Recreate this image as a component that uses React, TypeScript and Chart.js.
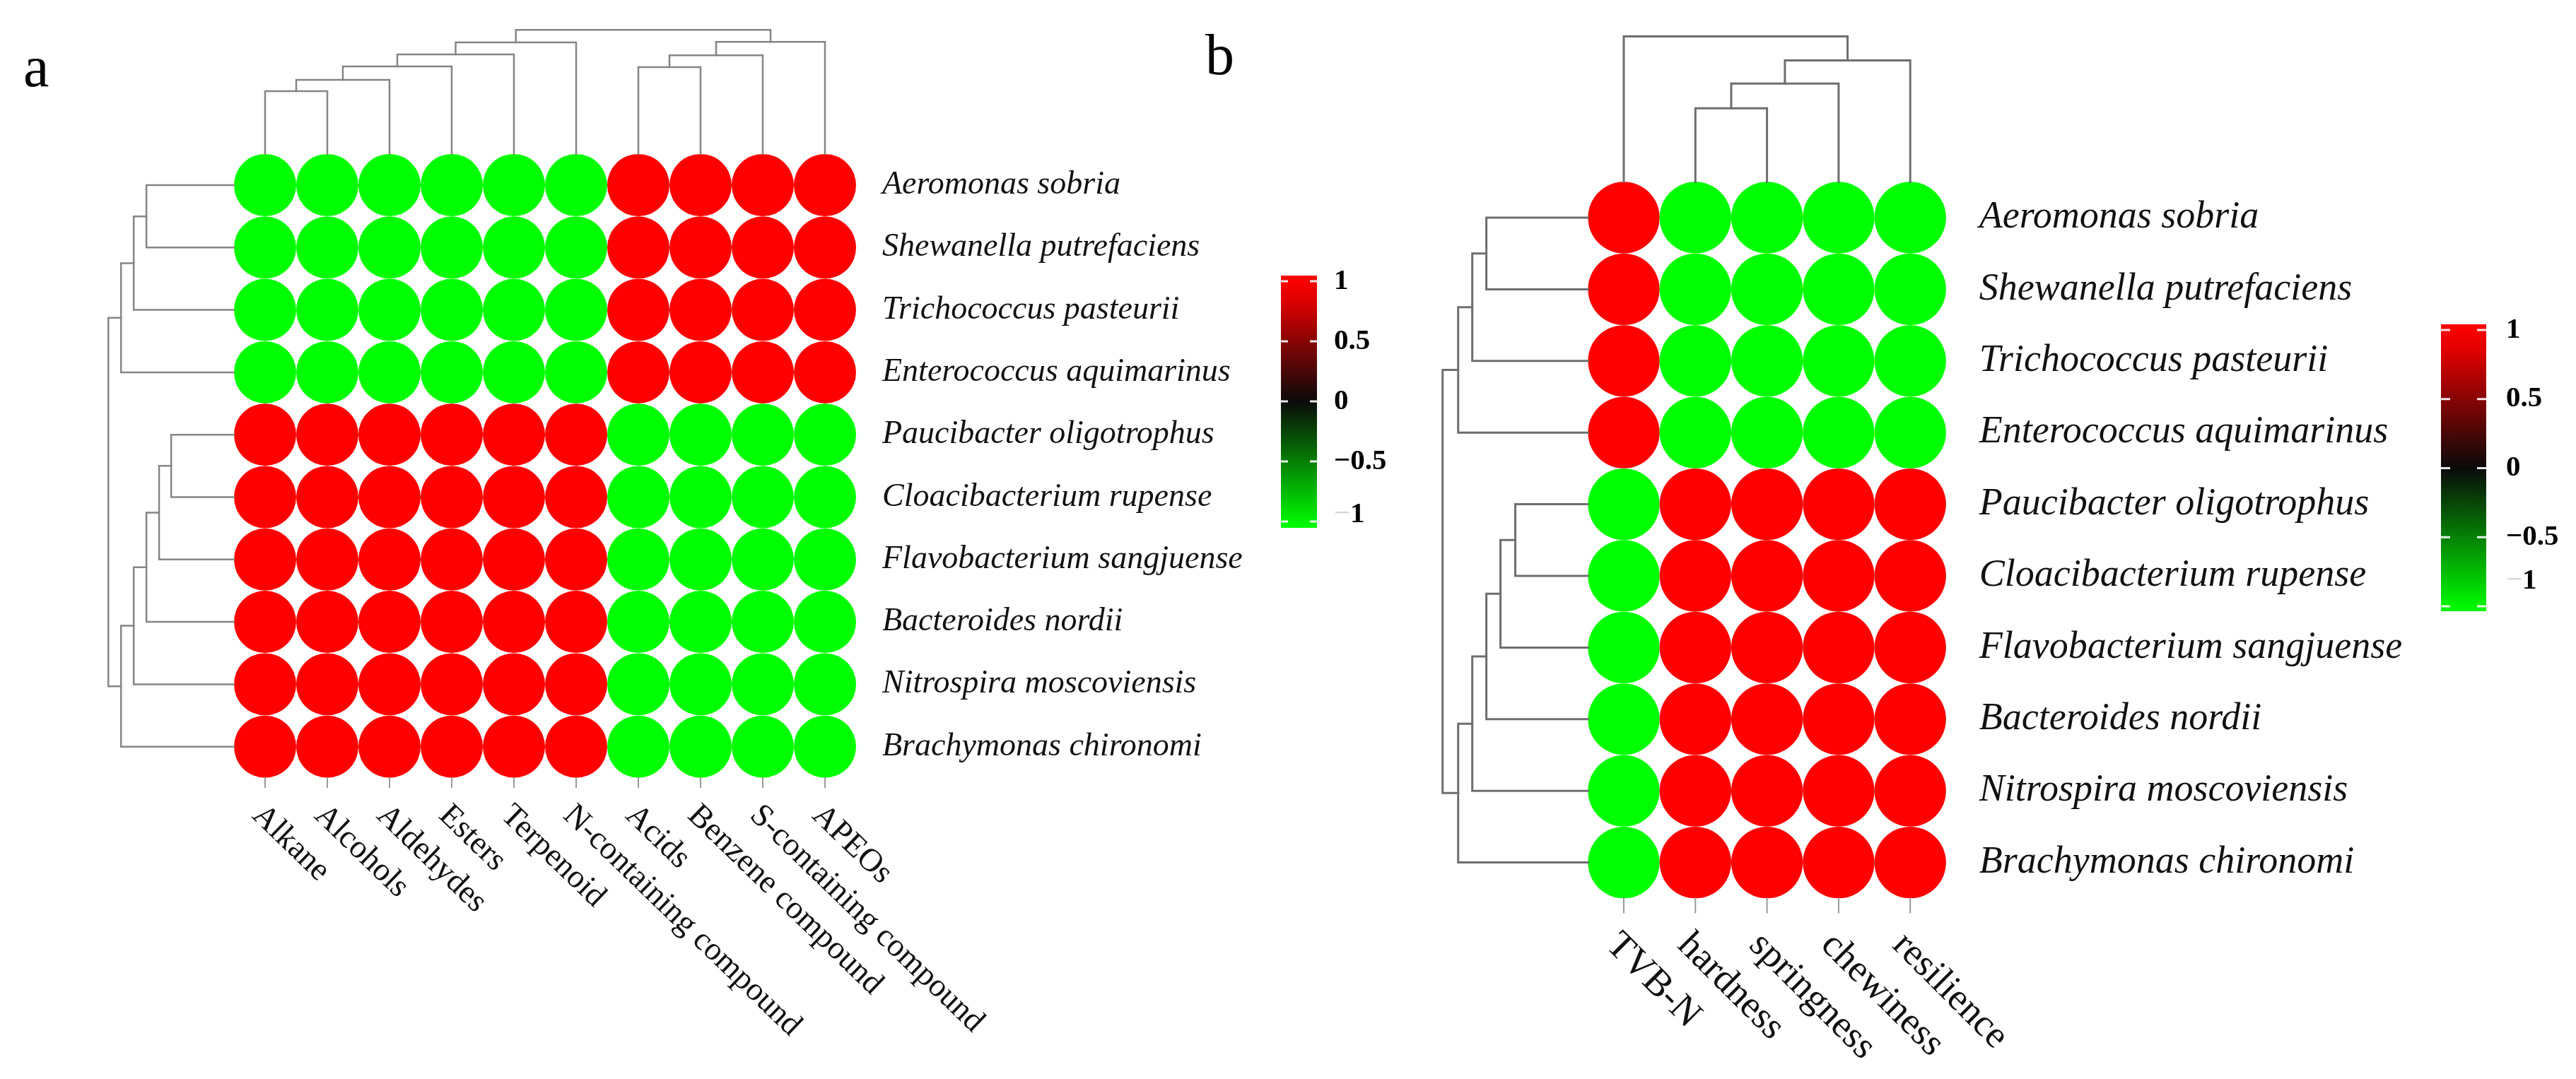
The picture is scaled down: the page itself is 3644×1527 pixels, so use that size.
import { useEffect, useRef } from "react";
import { Chart, registerables } from "chart.js";

Chart.register(...registerables);

const W = 3644;
const H = 1527;

// ---------- data ----------
const microbes = [
  "Aeromonas sobria",
  "Shewanella putrefaciens",
  "Trichococcus pasteurii",
  "Enterococcus aquimarinus",
  "Paucibacter oligotrophus",
  "Cloacibacterium rupense",
  "Flavobacterium sangjuense",
  "Bacteroides nordii",
  "Nitrospira moscoviensis",
  "Brachymonas chironomi",
];

const volatiles = [
  "Alkane",
  "Alcohols",
  "Aldehydes",
  "Esters",
  "Terpenoid",
  "N-containing compound",
  "Acids",
  "Benzene compound",
  "S-containing compound",
  "APEOs",
];

const qualities = ["TVB-N", "hardness", "springness", "chewiness", "resilience"];

const corrA: number[][] = [
  [-1, -1, -1, -1, -1, -1, 1, 1, 1, 1],
  [-1, -1, -1, -1, -1, -1, 1, 1, 1, 1],
  [-1, -1, -1, -1, -1, -1, 1, 1, 1, 1],
  [-1, -1, -1, -1, -1, -1, 1, 1, 1, 1],
  [1, 1, 1, 1, 1, 1, -1, -1, -1, -1],
  [1, 1, 1, 1, 1, 1, -1, -1, -1, -1],
  [1, 1, 1, 1, 1, 1, -1, -1, -1, -1],
  [1, 1, 1, 1, 1, 1, -1, -1, -1, -1],
  [1, 1, 1, 1, 1, 1, -1, -1, -1, -1],
  [1, 1, 1, 1, 1, 1, -1, -1, -1, -1],
];

const corrB: number[][] = [
  [1, -1, -1, -1, -1],
  [1, -1, -1, -1, -1],
  [1, -1, -1, -1, -1],
  [1, -1, -1, -1, -1],
  [-1, 1, 1, 1, 1],
  [-1, 1, 1, 1, 1],
  [-1, 1, 1, 1, 1],
  [-1, 1, 1, 1, 1],
  [-1, 1, 1, 1, 1],
  [-1, 1, 1, 1, 1],
];

// hclust-style merges: negative = leaf (1-based), positive = earlier merge; third = relative height
const colMergeA: [number, number, number][] = [
  [-1, -2, 0.506],
  [1, -3, 0.597],
  [2, -4, 0.705],
  [3, -5, 0.801],
  [4, -6, 0.898],
  [-7, -8, 0.699],
  [6, -9, 0.795],
  [7, -10, 0.903],
  [5, 8, 1.0],
];

const rowMergeA: [number, number, number][] = [
  [-1, -2, 0.697],
  [1, -3, 0.798],
  [2, -4, 0.899],
  [-5, -6, 0.5],
  [4, -7, 0.596],
  [5, -8, 0.697],
  [6, -9, 0.798],
  [7, -10, 0.899],
  [3, 8, 1.0],
];

const colMergeB: [number, number, number][] = [
  [-2, -3, 0.505],
  [1, -4, 0.675],
  [2, -5, 0.835],
  [-1, 3, 1.0],
];

const rowMergeB: [number, number, number][] = [
  [-1, -2, 0.699],
  [1, -3, 0.796],
  [2, -4, 0.893],
  [-5, -6, 0.5],
  [4, -7, 0.602],
  [5, -8, 0.699],
  [6, -9, 0.796],
  [7, -10, 0.893],
  [3, 8, 1.0],
];

const legendTicks = [1, 0.5, 0, -0.5, -1];
const legendTickLabels = ["1", "0.5", "0", "\u22120.5", "\u22121"];

// ---------- layout / style ----------
const SERIF = "'Liberation Serif', 'Times New Roman', serif";

type Panel = {
  id: string;
  letter: string;
  letterX: number;
  letterY: number;
  rows: string[];
  cols: string[];
  corr: number[][];
  colMerge: [number, number, number][];
  rowMerge: [number, number, number][];
  x0: number;
  dx: number;
  y0: number;
  dy: number;
  colDepth: number;
  rowDepth: number;
  tickLen: number;
  lineColor: string;
  lineWidth: number;
  rowGap: number;
  rowFont: number;
  colFont: number;
  colDX: number;
  colDY: number;
  angle: number;
  leg: {
    x: number;
    w: number;
    top: number;
    bottom: number;
    yPos1: number;
    yNeg1: number;
    labelX: number;
    font: number;
    lastShift: number;
    dash: number;
  };
};

const panels: Panel[] = [
  {
    id: "A",
    letter: "a",
    letterX: 33,
    letterY: 122,
    rows: microbes,
    cols: volatiles,
    corr: corrA,
    colMerge: colMergeA,
    rowMerge: rowMergeA,
    x0: 375,
    dx: 88,
    y0: 262,
    dy: 88.3,
    colDepth: 1.99,
    rowDepth: 2.02,
    tickLen: 0.15,
    lineColor: "#858585",
    lineWidth: 2.5,
    rowGap: 37,
    rowFont: 46,
    colFont: 46,
    colDX: -20,
    colDY: 42,
    angle: 44,
    leg: {
      x: 1812,
      w: 51,
      top: 390,
      bottom: 747,
      yPos1: 398,
      yNeg1: 738,
      labelX: 1887,
      font: 41,
      lastShift: -10,
      dash: 10,
    },
  },
  {
    id: "B",
    letter: "b",
    letterX: 1705,
    letterY: 105,
    rows: microbes,
    cols: qualities,
    corr: corrB,
    colMerge: colMergeB,
    rowMerge: rowMergeB,
    x0: 2297,
    dx: 101.3,
    y0: 308,
    dy: 101.4,
    colDepth: 2.03,
    rowDepth: 2.03,
    tickLen: 0.2,
    lineColor: "#6e6e6e",
    lineWidth: 3,
    rowGap: 47,
    rowFont: 54,
    colFont: 54,
    colDX: -27,
    colDY: 48,
    angle: 45,
    leg: {
      x: 3453,
      w: 64,
      top: 459,
      bottom: 865,
      yPos1: 467,
      yNeg1: 858,
      labelX: 3545,
      font: 41,
      lastShift: -36,
      dash: 13,
    },
  },
];

function corrColor(v: number): string {
  if (v >= 0) return `rgb(${Math.round(255 * v)},0,0)`;
  return `rgb(0,${Math.round(255 * -v)},0)`;
}

type Pt = { x: number; y: number };

function dendroSegments(
  merges: [number, number, number][],
  depth: number,
  orientation: "col" | "row"
): Pt[][] {
  const leafLevel = -0.5;
  const pos: { c: number; lvl: number }[] = [];
  const get = (id: number) => (id < 0 ? { c: -id - 1, lvl: leafLevel } : pos[id - 1]);
  const segs: Pt[][] = [];
  merges.forEach(([a, b, h]) => {
    const A = get(a);
    const B = get(b);
    const lvl = leafLevel - h * depth;
    pos.push({ c: (A.c + B.c) / 2, lvl });
    if (orientation === "col") {
      segs.push([
        { x: A.c, y: A.lvl },
        { x: A.c, y: lvl },
        { x: B.c, y: lvl },
        { x: B.c, y: B.lvl },
      ]);
    } else {
      segs.push([
        { x: A.lvl, y: A.c },
        { x: lvl, y: A.c },
        { x: lvl, y: B.c },
        { x: B.lvl, y: B.c },
      ]);
    }
  });
  return segs;
}

function buildDatasets() {
  const ds: any[] = [];
  panels.forEach((p) => {
    const xId = "x" + p.id;
    const yId = "y" + p.id;
    const lineDs = (data: Pt[], color: string, width: number) => ({
      type: "scatter",
      data,
      xAxisID: xId,
      yAxisID: yId,
      showLine: true,
      borderColor: color,
      borderWidth: width,
      pointRadius: 0,
      pointHoverRadius: 0,
      fill: false,
      tension: 0,
      clip: false,
      borderCapStyle: "square",
      borderJoinStyle: "miter",
    });
    dendroSegments(p.colMerge, p.colDepth, "col").forEach((s) =>
      ds.push(lineDs(s, p.lineColor, p.lineWidth))
    );
    dendroSegments(p.rowMerge, p.rowDepth, "row").forEach((s) =>
      ds.push(lineDs(s, p.lineColor, p.lineWidth))
    );
    const nR = p.rows.length;
    p.cols.forEach((_, j) => {
      ds.push(
        lineDs(
          [
            { x: j, y: nR - 0.5 },
            { x: j, y: nR - 0.5 + p.tickLen },
          ],
          "#9a9a9a",
          2
        )
      );
    });
    const cells: any[] = [];
    p.corr.forEach((row, i) =>
      row.forEach((v, j) => cells.push({ x: j, y: i, v }))
    );
    const radius = (ctx: any) => {
      const s = ctx.chart.scales[xId];
      const t = ctx.chart.scales[yId];
      if (!s || !t) return 0;
      const rx = Math.abs(s.getPixelForValue(1) - s.getPixelForValue(0)) / 2;
      const ry = Math.abs(t.getPixelForValue(1) - t.getPixelForValue(0)) / 2;
      const v = ctx.raw ? Math.abs(ctx.raw.v) : 1;
      return Math.min(rx, ry) * v;
    };
    ds.push({
      type: "scatter",
      data: cells,
      xAxisID: xId,
      yAxisID: yId,
      pointStyle: "circle",
      pointRadius: radius,
      pointHoverRadius: radius,
      pointBorderWidth: 0,
      borderWidth: 0,
      backgroundColor: (ctx: any) => corrColor(ctx.raw ? ctx.raw.v : 0),
      pointBackgroundColor: (ctx: any) => corrColor(ctx.raw ? ctx.raw.v : 0),
      clip: false,
    });
  });
  return ds;
}

function buildScales() {
  const scales: any = {};
  panels.forEach((p) => {
    scales["x" + p.id] = {
      type: "linear",
      display: false,
      min: -p.x0 / p.dx,
      max: (W - p.x0) / p.dx,
    };
    scales["y" + p.id] = {
      type: "linear",
      display: false,
      reverse: true,
      min: -p.y0 / p.dy,
      max: (H - p.y0) / p.dy,
    };
  });
  return scales;
}

const textPlugin = {
  id: "heatmapText",
  afterDatasetsDraw(chart: any) {
    const ctx: CanvasRenderingContext2D = chart.ctx;
    panels.forEach((p) => {
      const xs = chart.scales["x" + p.id];
      const ys = chart.scales["y" + p.id];
      const nR = p.rows.length;
      const nC = p.cols.length;
      ctx.save();
      ctx.fillStyle = "#111";
      // row labels
      ctx.font = `italic ${p.rowFont}px ${SERIF}`;
      ctx.textAlign = "left";
      ctx.textBaseline = "middle";
      const rx = xs.getPixelForValue(nC - 0.5) + p.rowGap;
      p.rows.forEach((r, i) => {
        ctx.fillText(r, rx, ys.getPixelForValue(i));
      });
      // column labels
      ctx.font = `${p.colFont}px ${SERIF}`;
      ctx.textBaseline = "alphabetic";
      const cy = ys.getPixelForValue(nR - 0.5 + p.tickLen);
      p.cols.forEach((c, j) => {
        ctx.save();
        ctx.translate(xs.getPixelForValue(j) + p.colDX, cy + p.colDY);
        ctx.rotate((p.angle * Math.PI) / 180);
        ctx.fillText(c, 0, 0);
        ctx.restore();
      });
      // panel letter
      ctx.font = `82px ${SERIF}`;
      ctx.fillStyle = "#000";
      ctx.fillText(p.letter, p.letterX, p.letterY);
      // colour legend
      const L = p.leg;
      const valToY = (v: number) => L.yPos1 + ((1 - v) / 2) * (L.yNeg1 - L.yPos1);
      const g = ctx.createLinearGradient(0, L.top, 0, L.bottom);
      const t0 = (valToY(0) - L.top) / (L.bottom - L.top);
      g.addColorStop(0, "#ff0000");
      g.addColorStop(Math.max(0, (valToY(0.85) - L.top) / (L.bottom - L.top)), "#e00000");
      g.addColorStop(t0, "#0a0a0a");
      g.addColorStop(1, "#00ff00");
      ctx.fillStyle = g;
      ctx.fillRect(L.x, L.top, L.w, L.bottom - L.top);
      ctx.strokeStyle = "rgba(255,255,255,0.9)";
      ctx.lineWidth = 3;
      legendTicks.forEach((v) => {
        const y = valToY(v);
        ctx.beginPath();
        ctx.moveTo(L.x, y);
        ctx.lineTo(L.x + L.dash, y);
        ctx.moveTo(L.x + L.w - L.dash, y);
        ctx.lineTo(L.x + L.w, y);
        ctx.stroke();
      });
      ctx.font = `bold ${L.font}px ${SERIF}`;
      ctx.textAlign = "left";
      ctx.textBaseline = "middle";
      legendTicks.forEach((v, k) => {
        const lab = legendTickLabels[k];
        const last = k === legendTicks.length - 1;
        const y = valToY(v) + (last ? L.lastShift : 0);
        if (last) {
          const minus = lab.slice(0, 1);
          const rest = lab.slice(1);
          ctx.fillStyle = "#d4d4d4";
          ctx.font = `${L.font}px ${SERIF}`;
          ctx.fillText(minus, L.labelX, y);
          const mw = ctx.measureText(minus).width;
          ctx.font = `bold ${L.font}px ${SERIF}`;
          ctx.fillStyle = "#000";
          ctx.fillText(rest, L.labelX + mw, y);
        } else {
          ctx.fillStyle = "#000";
          ctx.fillText(lab, L.labelX, y);
        }
      });
      ctx.restore();
    });
  },
};

export default function App() {
  const ref = useRef<HTMLCanvasElement | null>(null);
  useEffect(() => {
    document.body.style.margin = "0";
    document.body.style.background = "#fff";
    if (!ref.current) return;
    const chart = new Chart(ref.current, {
      type: "scatter",
      data: { datasets: buildDatasets() },
      options: {
        animation: false,
        responsive: false,
        devicePixelRatio: 1,
        events: [],
        layout: { padding: 0 },
        scales: buildScales(),
        plugins: {
          legend: { display: false },
          tooltip: { enabled: false },
        },
      },
      plugins: [textPlugin],
    } as any);
    return () => chart.destroy();
  }, []);
  return (
    <div style={{ width: W, height: H, background: "#fff" }}>
      <canvas ref={ref} width={W} height={H} style={{ width: W, height: H, display: "block" }} />
    </div>
  );
}
